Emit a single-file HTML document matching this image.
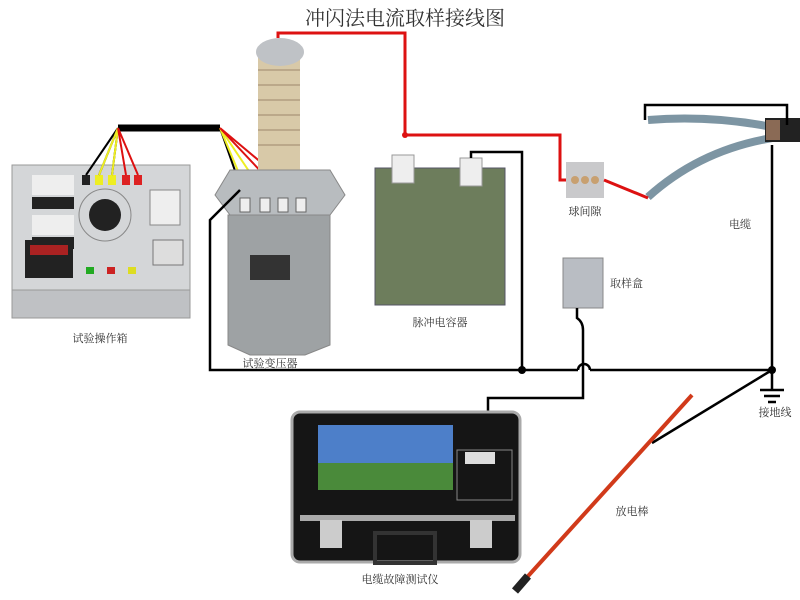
<!DOCTYPE html>
<html><head><meta charset="utf-8"><style>
html,body{margin:0;padding:0;background:#fff;}
svg{display:block;}
text{font-family:"Liberation Serif","Noto Serif CJK SC",serif;fill:#333;}
</style></head><body>
<svg width="800" height="600" viewBox="0 0 800 600" xmlns="http://www.w3.org/2000/svg">
<rect width="800" height="600" fill="#fff"/>
<text x="405" y="25" font-size="20" text-anchor="middle" fill="#444">冲闪法电流取样接线图</text>

<!-- operator box -->
<rect x="12" y="165" width="178" height="125" fill="#d4d6d8" stroke="#999"/>
<rect x="12" y="290" width="178" height="28" fill="#bfc1c4" stroke="#999"/>
<rect x="32" y="175" width="42" height="20" fill="#eee"/><rect x="32" y="197" width="42" height="12" fill="#222"/>
<rect x="32" y="215" width="42" height="20" fill="#eee"/><rect x="32" y="237" width="42" height="12" fill="#222"/>
<rect x="25" y="240" width="48" height="38" fill="#222"/><rect x="30" y="245" width="38" height="10" fill="#a22"/>
<circle cx="105" cy="215" r="16" fill="#222"/><circle cx="105" cy="215" r="26" fill="none" stroke="#888"/>
<rect x="150" y="190" width="30" height="35" fill="#eee" stroke="#888"/>
<rect x="153" y="240" width="30" height="25" fill="#ddd" stroke="#777"/>
<rect x="86" y="267" width="8" height="7" fill="#2a2"/><rect x="107" y="267" width="8" height="7" fill="#c22"/><rect x="128" y="267" width="8" height="7" fill="#dd2"/>
<rect x="82" y="175" width="8" height="10" fill="#222"/><rect x="95" y="175" width="8" height="10" fill="#ee2"/><rect x="108" y="175" width="8" height="10" fill="#ee2"/><rect x="122" y="175" width="8" height="10" fill="#d22"/><rect x="134" y="175" width="8" height="10" fill="#d22"/>
<text x="100" y="342" font-size="11" text-anchor="middle">试验操作箱</text>

<!-- control cable -->
<path d="M118 128 L220 128" stroke="#000" stroke-width="7"/>
<path d="M118 128 L86 175 M118 128 L99 175 M118 128 L112 175" stroke="#000" stroke-width="2" fill="none"/>
<path d="M118 128 L99 175 M118 128 L112 175" stroke="#ee2" stroke-width="2"/>
<path d="M118 128 L126 175 M118 128 L138 175" stroke="#d11" stroke-width="2"/>
<path d="M220 128 L240 185" stroke="#000" stroke-width="2"/>
<path d="M220 128 L248 195 M220 128 L265 195" stroke="#ee2" stroke-width="2"/>
<path d="M220 128 L283 195 M220 128 L300 195" stroke="#d11" stroke-width="2"/>

<!-- transformer -->
<rect x="258" y="55" width="42" height="115" fill="#d8c9a8"/>
<g stroke="#bba88a" stroke-width="2">
<line x1="258" y1="70" x2="300" y2="70"/><line x1="258" y1="85" x2="300" y2="85"/><line x1="258" y1="100" x2="300" y2="100"/><line x1="258" y1="115" x2="300" y2="115"/><line x1="258" y1="130" x2="300" y2="130"/><line x1="258" y1="145" x2="300" y2="145"/></g>
<ellipse cx="280" cy="52" rx="24" ry="14" fill="#bfc2c6"/>
<polygon points="230,170 330,170 345,195 330,215 230,215 215,195" fill="#b8bcbf" stroke="#888"/>
<polygon points="228,215 330,215 330,345 305,355 250,355 228,345" fill="#9ea2a4" stroke="#888"/>
<rect x="250" y="255" width="40" height="25" fill="#333"/>
<g fill="#eee" stroke="#666"><rect x="240" y="198" width="10" height="14"/><rect x="260" y="198" width="10" height="14"/><rect x="278" y="198" width="10" height="14"/><rect x="296" y="198" width="10" height="14"/></g>
<text x="270" y="367" font-size="11" text-anchor="middle">试验变压器</text>

<!-- capacitor -->
<rect x="375" y="168" width="130" height="137" fill="#6d7d5c" stroke="#556"/>
<rect x="392" y="155" width="22" height="28" fill="#eee" stroke="#999"/>
<rect x="460" y="158" width="22" height="28" fill="#eee" stroke="#999"/>
<text x="440" y="326" font-size="11" text-anchor="middle">脉冲电容器</text>

<!-- sphere gap -->
<rect x="566" y="162" width="38" height="36" fill="#c9c9cb"/>
<g fill="#c8a070"><circle cx="575" cy="180" r="4"/><circle cx="585" cy="180" r="4"/><circle cx="595" cy="180" r="4"/></g>
<text x="585" y="215" font-size="11" text-anchor="middle">球间隙</text>

<!-- cable -->
<path d="M648 120 Q710 115 772 127" stroke="#7d95a3" stroke-width="8" fill="none"/>
<path d="M648 197 Q700 150 772 138" stroke="#7d95a3" stroke-width="8" fill="none"/>
<rect x="765" y="118" width="35" height="24" fill="#222"/>
<rect x="766" y="120" width="14" height="20" fill="#8a6a55"/>
<text x="740" y="228" font-size="11" text-anchor="middle">电缆</text>

<!-- sampling box -->
<rect x="563" y="258" width="40" height="50" fill="#b9bdc3" stroke="#888"/>
<text x="610" y="287" font-size="11">取样盒</text>

<!-- wires red -->
<path d="M278 38 L278 33 L405 33 L405 135 L560 135 L560 180 L566 180" stroke="#d11" stroke-width="3" fill="none"/>
<path d="M604 180 L648 198" stroke="#d11" stroke-width="3"/>
<circle cx="405" cy="135" r="3" fill="#d11"/>
<!-- wires black -->
<g stroke="#000" stroke-width="2.5" fill="none">
<path d="M240 190 L210 220 L210 370 L578 370 M590 370 L772 370"/>
<path d="M578 370 A6 6 0 0 1 590 370"/>
<path d="M522 370 L522 152 L471 152 L471 158"/>
<path d="M772 370 L772 145"/>
<path d="M645 120 L645 105 L787 105 L787 125"/>
<path d="M577 308 L577 318 Q583 322 583 330 L583 398 L488 398 L488 420"/>
<path d="M772 370 L652 443"/>
<path d="M772 370 L772 390 M760 390 L784 390 M764 396 L780 396 M768 402 L776 402"/>
</g>
<circle cx="522" cy="370" r="4" fill="#000"/><circle cx="772" cy="370" r="4" fill="#000"/>
<text x="775" y="416" font-size="11" text-anchor="middle" font-family="Liberation Sans,Noto Sans CJK SC,sans-serif">接地线</text>

<!-- instrument -->
<rect x="292" y="412" width="228" height="150" rx="8" fill="#151515" stroke="#aaa" stroke-width="3"/>
<rect x="318" y="425" width="135" height="65" fill="#4a8a3a"/>
<rect x="318" y="425" width="135" height="38" fill="#4d7fc9"/>
<rect x="457" y="450" width="55" height="50" fill="none" stroke="#888"/>
<rect x="465" y="452" width="30" height="12" fill="#ddd"/>
<rect x="300" y="515" width="215" height="6" fill="#aaa"/>
<rect x="320" y="520" width="22" height="28" fill="#ccc"/><rect x="470" y="520" width="22" height="28" fill="#ccc"/>
<rect x="375" y="533" width="60" height="30" fill="none" stroke="#333" stroke-width="4"/>
<text x="400" y="583" font-size="11" text-anchor="middle">电缆故障测试仪</text>

<!-- rod -->
<path d="M692 395 L520 585" stroke="#d13a1a" stroke-width="4"/>
<path d="M528 576 L515 591" stroke="#222" stroke-width="8"/>
<text x="632" y="515" font-size="11" text-anchor="middle">放电棒</text>
</svg>
</body></html>
